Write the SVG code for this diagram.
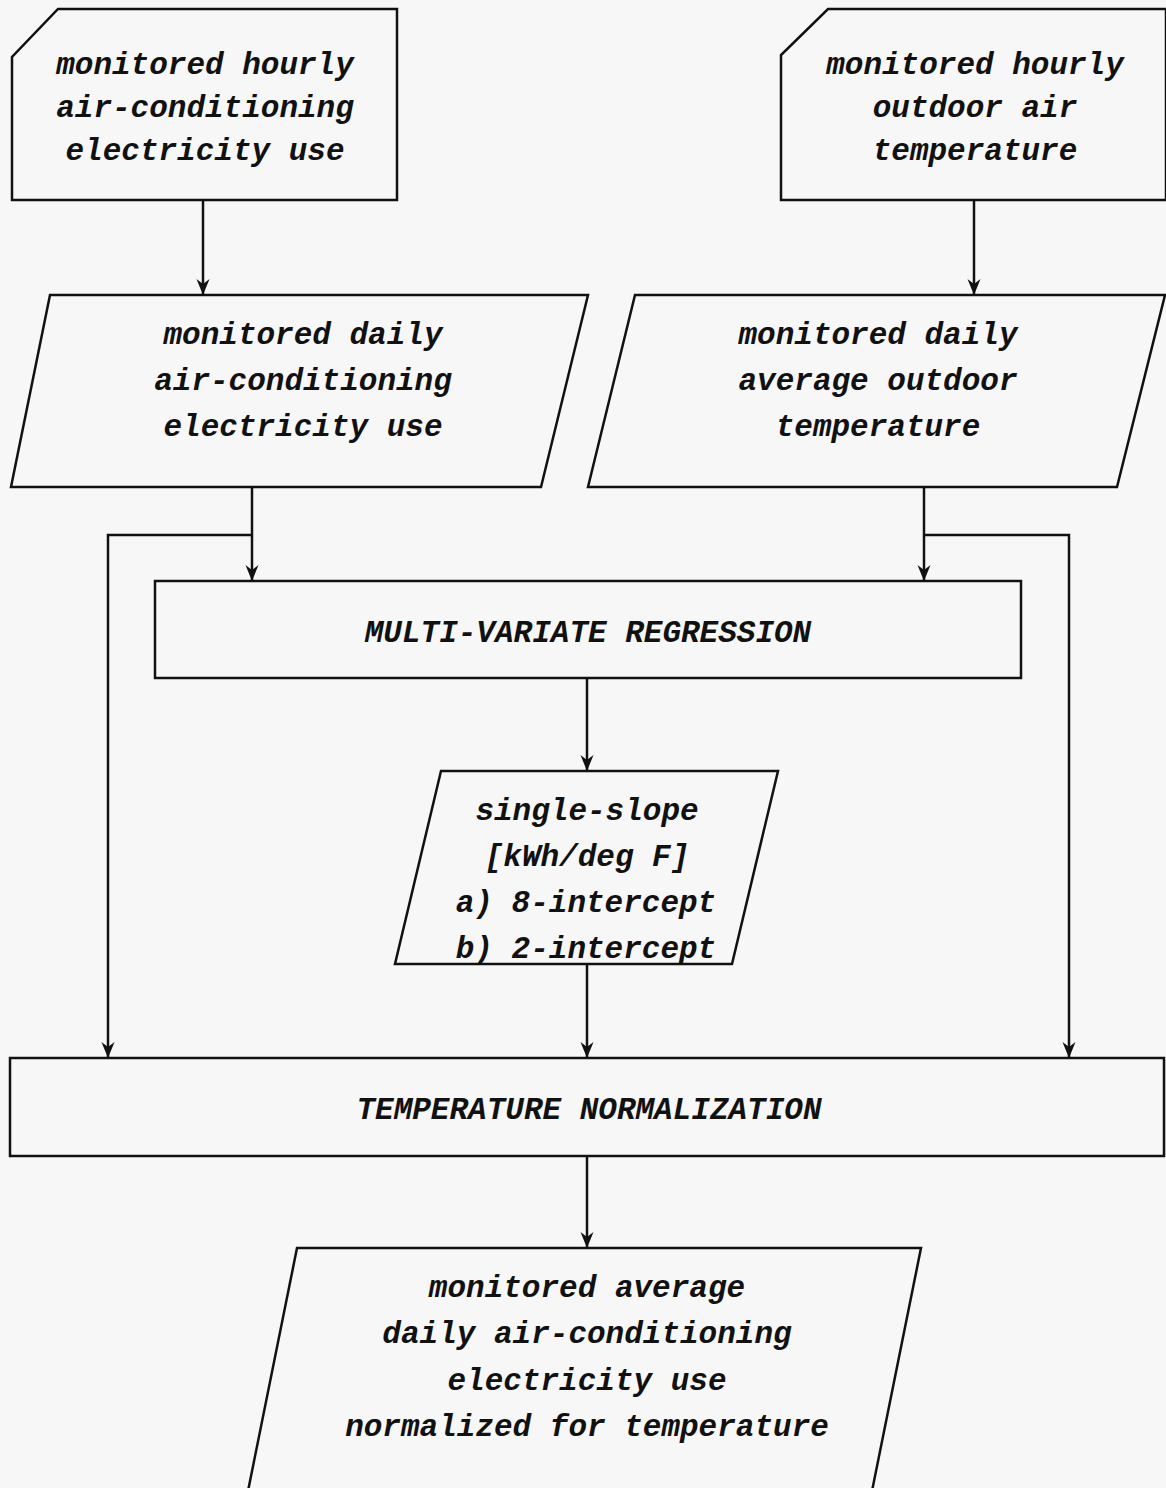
<svg xmlns="http://www.w3.org/2000/svg" width="1166" height="1488" viewBox="0 0 1166 1488">
<style>
.bg{fill:#f7f7f7}
.shape{fill:#f7f7f7;stroke:#111;stroke-width:2.5;stroke-linejoin:miter}
.conn{fill:none;stroke:#111;stroke-width:2.5}
text{font-family:"Liberation Mono","Courier New",monospace;font-weight:bold;font-style:italic;font-size:31px;fill:#111;text-anchor:middle}
</style>
<defs>
<marker id="arr" viewBox="-1 -8 18 16" refX="16" refY="0" markerWidth="18" markerHeight="16" markerUnits="userSpaceOnUse" orient="auto">
<path d="M0,-6.5 L16,0 L0,6.5 L5,0 Z" fill="#111"/>
</marker>
</defs>
<rect class="bg" x="0" y="0" width="1166" height="1488"/>

<g id="connectors">
<line class="conn" x1="203" y1="200" x2="203" y2="295" marker-end="url(#arr)"/>
<line class="conn" x1="974" y1="200" x2="974" y2="295" marker-end="url(#arr)"/>
<line class="conn" x1="252" y1="487" x2="252" y2="581" marker-end="url(#arr)"/>
<path class="conn" d="M252,535 H108 V1058" marker-end="url(#arr)"/>
<line class="conn" x1="924" y1="487" x2="924" y2="581" marker-end="url(#arr)"/>
<path class="conn" d="M924,535 H1069 V1058" marker-end="url(#arr)"/>
<line class="conn" x1="587" y1="678" x2="587" y2="771" marker-end="url(#arr)"/>
<line class="conn" x1="587" y1="964" x2="587" y2="1058" marker-end="url(#arr)"/>
<line class="conn" x1="587" y1="1156" x2="587" y2="1248" marker-end="url(#arr)"/>
</g>

<g id="hourly-ac">
<path class="shape" d="M58,9 H397 V200 H12 V57 Z"/>
<text x="205" y="74">monitored hourly</text>
<text x="205" y="117">air-conditioning</text>
<text x="205" y="160">electricity use</text>
</g>

<g id="hourly-temp">
<path class="shape" d="M828,9 H1166 V200 H781 V55 Z"/>
<text x="975" y="74">monitored hourly</text>
<text x="975" y="117">outdoor air</text>
<text x="975" y="160">temperature</text>
</g>

<g id="daily-ac">
<path class="shape" d="M50,295 H588 L541,487 H11 Z"/>
<text x="303" y="344">monitored daily</text>
<text x="303" y="390">air-conditioning</text>
<text x="303" y="436">electricity use</text>
</g>

<g id="daily-temp">
<path class="shape" d="M635,295 H1165 L1117,487 H588 Z"/>
<text x="878" y="344">monitored daily</text>
<text x="878" y="390">average outdoor</text>
<text x="878" y="436">temperature</text>
</g>

<g id="regression">
<rect class="shape" x="155" y="581" width="866" height="97"/>
<text x="588" y="642">MULTI-VARIATE REGRESSION</text>
</g>

<g id="slope">
<path class="shape" d="M441,771 H778 L732,964 H395 Z"/>
<text x="587" y="820">single-slope</text>
<text x="587" y="866">[kWh/deg F]</text>
<text x="586" y="912">a) 8-intercept</text>
<text x="586" y="958">b) 2-intercept</text>
</g>

<g id="normalization">
<rect class="shape" x="10" y="1058" width="1154" height="98"/>
<text x="589" y="1119">TEMPERATURE NORMALIZATION</text>
</g>

<g id="normalized-use">
<path class="shape" d="M297,1248 H921 L871,1496 H247 Z"/>
<text x="587" y="1297">monitored average</text>
<text x="587" y="1343">daily air-conditioning</text>
<text x="587" y="1390">electricity use</text>
<text x="587" y="1436">normalized for temperature</text>
</g>
</svg>
